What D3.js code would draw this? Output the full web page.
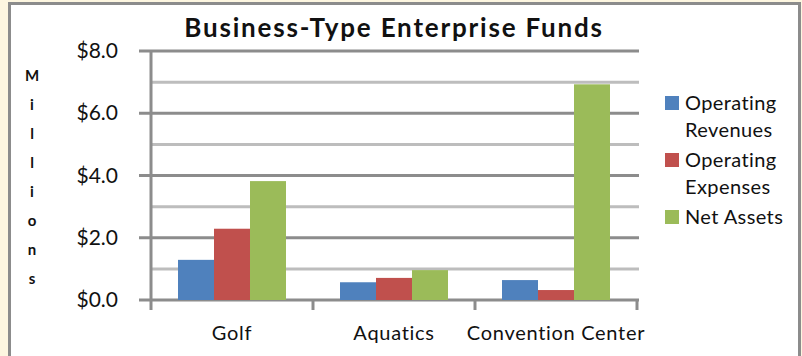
<!DOCTYPE html>
<html>
<head>
<meta charset="utf-8">
<script src="https://cdn.jsdelivr.net/npm/d3@7"></script>
<style>
  body { margin: 0; background: #fdf6e0; }
  svg { display: block; }
  text { font-family: Lato, "Open Sans", sans-serif; fill: #111; }
</style>
</head>
<body>
<svg id="chart" width="802" height="356"></svg>
<script>
// Data (millions)
const categories = ['Golf', 'Aquatics', 'Convention Center']
const seriesNames = ['Operating Revenues', 'Operating Expenses', 'Net Assets']
const legendLines = [['Operating', 'Revenues'], ['Operating', 'Expenses'], ['Net Assets']]
const operatingRevenues = [1.29, 0.57, 0.64]
const operatingExpenses = [2.29, 0.71, 0.32]
const netAssets = [3.82, 0.96, 6.93]
const yTicks = [0, 2, 4, 6, 8]
const yMinorTicks = [1, 3, 5, 7]
const colors = ['#4f81bd', '#c0504d', '#9bbb59']

const svg = d3.select('#chart')

// Chart box
svg.append('rect')
    .attr('x', 9.5).attr('y', 3.5)
    .attr('width', 790).attr('height', 360)
    .style('fill', '#fff')
    .style('stroke', '#8c8c8c')
    .style('stroke-width', 3)

// Title
svg.append('text')
    .attr('x', 394).attr('y', 37)
    .attr('text-anchor', 'middle')
    .style('font-size', '26px')
    .style('font-weight', 'bold')
    .style('letter-spacing', '1.8px')
    .text('Business-Type Enterprise Funds')

// Scales
const xScale = d3.scaleBand()
    .domain(categories)
    .range([151, 637])
    .paddingInner(0)
    .paddingOuter(0)

const yScale = d3.scaleLinear()
    .domain([0, 8])
    .range([300, 51])

// Minor gridlines
svg.append('g').selectAll('line')
    .data(yMinorTicks)
    .join('line')
    .attr('x1', 151).attr('x2', 639)
    .attr('y1', d => yScale(d)).attr('y2', d => yScale(d))
    .style('stroke', '#bdbdbd')
    .style('stroke-width', 3)

// Major gridlines (with tick stubs)
svg.append('g').selectAll('line')
    .data(yTicks)
    .join('line')
    .attr('x1', 139).attr('x2', 639)
    .attr('y1', d => yScale(d)).attr('y2', d => yScale(d))
    .style('stroke', '#8c8c8c')
    .style('stroke-width', 3)

// Bars
const seriesData = [operatingRevenues, operatingExpenses, netAssets]
const inner = d3.scaleBand()
    .domain(d3.range(seriesData.length))
    .range([0, xScale.bandwidth()])
    .paddingOuter(0.75)
    .paddingInner(0)

seriesData.forEach((values, s) => {
    svg.append('g').selectAll('rect')
        .data(values)
        .join('rect')
        .attr('x', (_, i) => xScale(categories[i]) + inner(s))
        .attr('width', inner.bandwidth())
        .attr('y', d => yScale(d))
        .attr('height', d => yScale(0) - yScale(d))
        .style('fill', colors[s])
})

// Y axis
const yAxis = d3.axisLeft(yScale)
    .tickValues(yTicks)
    .tickFormat(d => '$' + d3.format('.1f')(d))
    .tickSize(0)
    .tickPadding(33)

svg.append('g')
    .attr('transform', 'translate(151,0)')
    .call(yAxis)
    .call(g => g.select('.domain').remove())
    .call(g => g.selectAll('text')
        .style('font-size', '21px')
        .style('fill', '#111')
        .style('font-family', 'Lato, "Open Sans", sans-serif'))

svg.append('line')
    .attr('x1', 151).attr('x2', 151)
    .attr('y1', 51).attr('y2', 310)
    .style('stroke', '#8c8c8c')
    .style('stroke-width', 3)

// X axis category ticks
const xBounds = categories.map(c => xScale(c)).concat([xScale.range()[1]])
svg.append('g').selectAll('line')
    .data(xBounds.slice(1))
    .join('line')
    .attr('x1', d => d).attr('x2', d => d)
    .attr('y1', 300).attr('y2', 310)
    .style('stroke', '#8c8c8c')
    .style('stroke-width', 3)

svg.append('g').selectAll('text')
    .data(categories)
    .join('text')
    .attr('x', d => xScale(d) + xScale.bandwidth() / 2)
    .attr('y', 340)
    .attr('text-anchor', 'middle')
    .style('font-size', '20px')
    .style('letter-spacing', '0.7px')
    .text(d => d)

// Y axis title, one letter per line
const yTitle = 'Millions'.split('')
svg.append('g').selectAll('text')
    .data(yTitle)
    .join('text')
    .attr('x', 32)
    .attr('y', (_, i) => 81 + i * 29)
    .attr('text-anchor', 'middle')
    .style('font-size', '15px')
    .style('font-weight', 'bold')
    .text(d => d)

// Legend
const legendY = [96, 153, 210]
const legend = svg.append('g')
seriesNames.forEach((name, s) => {
    legend.append('rect')
        .attr('x', 665).attr('y', legendY[s])
        .attr('width', 14).attr('height', 14)
        .style('fill', colors[s])
    legendLines[s].forEach((line, j) => {
        legend.append('text')
            .attr('x', 685)
            .attr('y', legendY[s] + 14 + j * 27)
            .style('font-size', '20px')
            .style('letter-spacing', '0.4px')
            .text(line)
    })
})
</script>
</body>
</html>
